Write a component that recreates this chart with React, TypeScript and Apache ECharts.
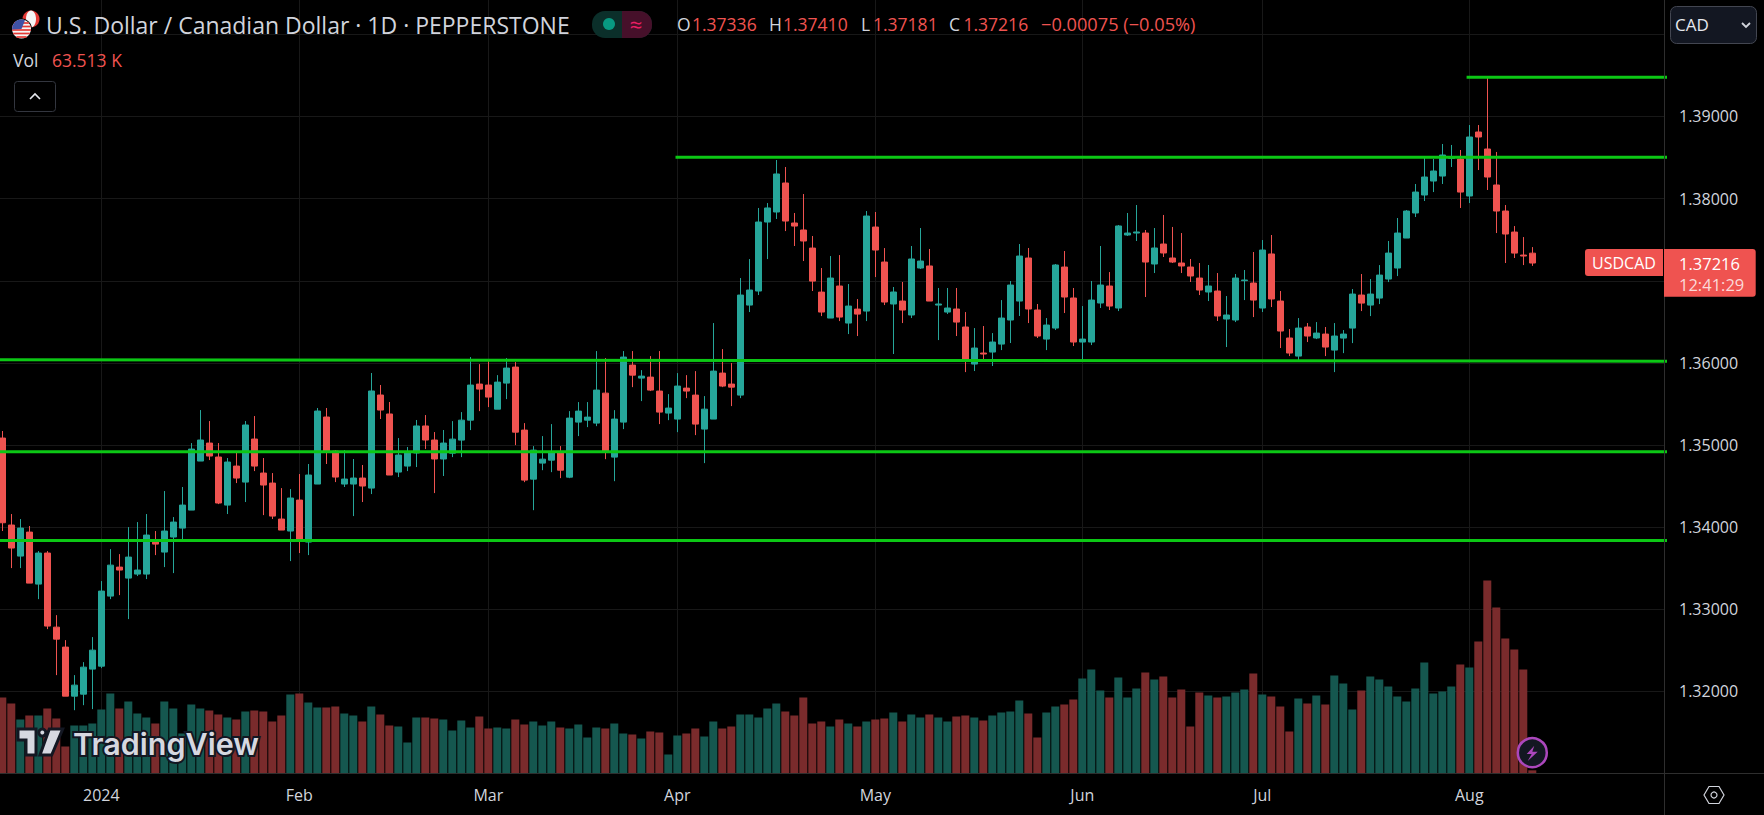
import React, { useEffect, useRef } from "react";
import * as echarts from "echarts";

// Daily candles, oldest first: [open, close, low, high]
const candles: number[][] = [
  [1.35085,1.34054,1.33953,1.35171],[1.34026,1.33746,1.33502,1.34160],[1.33648,1.33989,1.33502,1.34099],[1.33940,1.33319,1.33319,1.34014],
  [1.33307,1.33685,1.33124,1.33709],[1.33685,1.32796,1.32759,1.33709],[1.32783,1.32637,1.32199,1.32929],[1.32540,1.31943,1.31943,1.32625],
  [1.31943,1.32077,1.31772,1.32199],[1.31967,1.32296,1.31833,1.32357],[1.32272,1.32503,1.31785,1.32662],[1.32308,1.33222,1.32284,1.33344],
  [1.33161,1.33538,1.33124,1.33733],[1.33514,1.33478,1.33173,1.33672],[1.33380,1.33636,1.32881,1.34001],[1.33429,1.33478,1.33405,1.34062],
  [1.33429,1.33904,1.33368,1.34160],[1.33819,1.33794,1.33660,1.33953],[1.33697,1.33953,1.33514,1.34440],[1.33880,1.34062,1.33441,1.34123],
  [1.33989,1.34269,1.33831,1.34489],[1.34208,1.34951,1.34208,1.35024],[1.34805,1.35061,1.34805,1.35426],[1.35024,1.34866,1.34817,1.35292],
  [1.34854,1.34294,1.34281,1.35024],[1.34269,1.34793,1.34160,1.34842],[1.34744,1.34598,1.34537,1.34927],[1.34549,1.35244,1.34306,1.35292],
  [1.35073,1.34744,1.34683,1.35353],[1.34659,1.34513,1.34147,1.34842],[1.34537,1.34135,1.34099,1.34659],[1.34099,1.33965,1.33965,1.34476],
  [1.33953,1.34355,1.33587,1.34464],[1.34330,1.33855,1.33685,1.34647],[1.33819,1.34635,1.33660,1.34769],[1.34525,1.35414,1.34525,1.35451],
  [1.35341,1.34915,1.34769,1.35451],[1.34927,1.34610,1.34549,1.34939],[1.34525,1.34586,1.34489,1.34939],[1.34525,1.34598,1.34135,1.34830],
  [1.34598,1.34501,1.34306,1.34757],[1.34476,1.35658,1.34403,1.35877],[1.35609,1.35426,1.35317,1.35731],[1.35378,1.34635,1.34635,1.35524],
  [1.34671,1.34878,1.34610,1.35085],[1.34744,1.34903,1.34683,1.34976],[1.34903,1.35232,1.34732,1.35305],[1.35232,1.35061,1.34951,1.35365],
  [1.35061,1.34830,1.34415,1.35158],[1.34830,1.35024,1.34623,1.35183],[1.34901,1.35072,1.34853,1.35291],[1.35060,1.35303,1.34853,1.35401],
  [1.35303,1.35730,1.35182,1.36071],[1.35742,1.35681,1.35413,1.35985],[1.35730,1.35584,1.35462,1.36022],[1.35437,1.35766,1.35437,1.35851],
  [1.35754,1.35937,1.35559,1.36059],[1.35949,1.35157,1.34999,1.36010],[1.35182,1.34573,1.34548,1.35267],[1.34585,1.34938,1.34207,1.34987],
  [1.34780,1.34828,1.34694,1.35109],[1.34816,1.34914,1.34670,1.35255],[1.34914,1.34694,1.34597,1.34987],[1.34609,1.35328,1.34597,1.35413],
  [1.35279,1.35413,1.35109,1.35523],[1.35303,1.35340,1.35218,1.35523],[1.35267,1.35669,1.35230,1.36144],[1.35632,1.34914,1.34828,1.36059],
  [1.34853,1.35316,1.34560,1.35425],[1.35279,1.36071,1.35194,1.36144],[1.35973,1.35851,1.35705,1.36144],[1.35815,1.35839,1.35535,1.35912],
  [1.35827,1.35669,1.35657,1.36083],[1.35657,1.35401,1.35255,1.36144],[1.35389,1.35450,1.35303,1.35620],[1.35316,1.35718,1.35157,1.35876],
  [1.35693,1.35657,1.35571,1.35851],[1.35608,1.35255,1.35121,1.35900],[1.35194,1.35437,1.34780,1.35596],[1.35316,1.35900,1.35316,1.36485],
  [1.35876,1.35718,1.35705,1.36168],[1.35742,1.35705,1.35474,1.35998],[1.35608,1.36826,1.35571,1.37033],[1.36704,1.36887,1.36619,1.37264],
  [1.36875,1.37715,1.36826,1.37886],[1.37715,1.37886,1.37264,1.37946],[1.37837,1.38300,1.37752,1.38470],[1.38190,1.37727,1.37605,1.38385],
  [1.37703,1.37666,1.37423,1.37825],[1.37618,1.37484,1.37240,1.38056],[1.37398,1.36996,1.36875,1.37545],[1.36862,1.36619,1.36570,1.37155],
  [1.36546,1.37033,1.36546,1.37301],[1.36936,1.36558,1.36509,1.37313],[1.36485,1.36692,1.36351,1.36960],[1.36655,1.36594,1.36327,1.36777],
  [1.36631,1.37788,1.36509,1.37849],[1.37654,1.37374,1.37045,1.37837],[1.37228,1.36741,1.36704,1.37398],[1.36717,1.36863,1.36108,1.36924],
  [1.36753,1.36644,1.36485,1.36985],[1.36583,1.37265,1.36546,1.37423],[1.37155,1.37240,1.37143,1.37642],[1.37180,1.36753,1.36753,1.37387],
  [1.36704,1.36717,1.36278,1.36912],[1.36619,1.36668,1.36595,1.36912],[1.36656,1.36497,1.36327,1.36912],[1.36437,1.36022,1.35888,1.36619],
  [1.35986,1.36181,1.35901,1.36424],[1.36120,1.36108,1.36022,1.36449],[1.36132,1.36254,1.35962,1.36363],[1.36229,1.36546,1.36156,1.36765],
  [1.36522,1.36948,1.36242,1.36997],[1.36753,1.37301,1.36571,1.37447],[1.37277,1.36656,1.36485,1.37399],[1.36644,1.36327,1.36303,1.36717],
  [1.36290,1.36461,1.36156,1.36546],[1.36424,1.37192,1.36400,1.37204],[1.37167,1.36802,1.36607,1.37362],[1.36790,1.36254,1.36205,1.36912],
  [1.36254,1.36290,1.36035,1.36692],[1.36254,1.36765,1.36217,1.36997],[1.36729,1.36948,1.36668,1.37423],[1.36936,1.36692,1.36644,1.37106],
  [1.36668,1.37667,1.36631,1.37679],[1.37557,1.37581,1.37545,1.37825],[1.37581,1.37594,1.37484,1.37922],[1.37581,1.37228,1.36802,1.37618],
  [1.37204,1.37399,1.37094,1.37642],[1.37447,1.37338,1.37289,1.37801],[1.37277,1.37228,1.37216,1.37655],[1.37216,1.37180,1.37094,1.37581],
  [1.37167,1.37058,1.36985,1.37265],[1.37033,1.36887,1.36826,1.37216],[1.36863,1.36936,1.36753,1.37192],[1.36875,1.36571,1.36510,1.37094],
  [1.36534,1.36583,1.36193,1.36814],[1.36522,1.37033,1.36497,1.37082],[1.37001,1.37009,1.36765,1.37131],[1.36972,1.36765,1.36558,1.37350],
  [1.36668,1.37374,1.36619,1.37496],[1.37326,1.36778,1.36680,1.37557],[1.36753,1.36388,1.36181,1.36875],[1.36303,1.36120,1.36083,1.36412],
  [1.36083,1.36424,1.36035,1.36546],[1.36437,1.36327,1.36254,1.36485],[1.36303,1.36363,1.36290,1.36497],[1.36351,1.36193,1.36083,1.36437],
  [1.36156,1.36327,1.35888,1.36485],[1.36302,1.36351,1.36119,1.36400],[1.36424,1.36838,1.36241,1.36899],[1.36826,1.36728,1.36631,1.37082],
  [1.36704,1.36838,1.36570,1.37021],[1.36789,1.37069,1.36716,1.37191],[1.37021,1.37337,1.36984,1.37484],[1.37155,1.37581,1.37057,1.37764],
  [1.37520,1.37849,1.37520,1.37861],[1.37825,1.38080,1.37776,1.38178],[1.38044,1.38263,1.37971,1.38495],[1.38214,1.38336,1.38080,1.38482],
  [1.38275,1.38531,1.38178,1.38665],[1.38490,1.38507,1.38385,1.38653],[1.38482,1.38080,1.37886,1.38592],[1.38032,1.38750,1.37946,1.38896],
  [1.38811,1.38750,1.38348,1.38896],[1.38604,1.38263,1.38105,1.39469],[1.38166,1.37849,1.37581,1.38568],[1.37849,1.37569,1.37216,1.37922],
  [1.37593,1.37337,1.37277,1.37666],[1.37313,1.37301,1.37191,1.37532],[1.37336,1.37216,1.37181,1.37410],
];

// Daily volume in thousands
const volumes: number[] = [
  1520,1400,1080,1160,1160,1300,1100,540,960,960,
  1000,1280,1600,1300,1440,1200,1120,1000,1440,1300,
  800,1380,1300,1260,1180,1120,1080,1240,1260,1240,
  1040,1160,1580,1600,1420,1320,1320,1340,1200,1160,
  1040,1340,1180,960,940,620,1120,1120,1100,1080,
  860,1060,920,1140,900,920,900,1080,980,1040,
  960,1040,920,900,980,720,920,900,1000,800,
  780,700,840,820,380,760,800,900,740,1040,
  900,940,1180,1180,1120,1300,1400,1240,1160,1520,
  1000,1040,940,1080,1000,940,1040,1080,1100,1220,
  1040,1180,1120,1180,1120,1040,1140,1160,1120,1060,
  1160,1220,1240,1460,1200,720,1220,1340,1380,1480,
  1900,2080,1660,1520,1920,1520,1700,2020,1880,1940,
  1520,1680,940,1620,1560,1520,1540,1620,1680,2000,
  1580,1540,1340,840,1500,1400,1560,1380,1960,1800,
  1280,1660,1940,1880,1740,1540,1440,1700,2220,1600,
  1640,1740,2180,2120,2640,3860,3320,2700,2480,2080,
  63.513,
];

// Time axis: candle index of each labelled session
const xTickIndex = [11, 33, 54, 75, 97, 120, 140, 163];
const xTickLabels = ["2024", "Feb", "Mar", "Apr", "May", "Jun", "Jul", "Aug"];
const yTickLabels = [1.32, 1.33, 1.34, 1.35, 1.36, 1.38, 1.39];

// Drawn support / resistance levels: [candle index, price] end points
const levels: number[][][] = [
  [[162.7, 1.39477], [185, 1.39477]],
  [[74.8, 1.38503], [185, 1.38503]],
  [[-1, 1.36039], [185, 1.36021]],
  [[-1, 1.34919], [185, 1.34919]],
  [[-1, 1.33838], [185, 1.33838]],
];

const FONT = '"Open Sans", "Noto Sans", sans-serif';
const GREY = "#d1d4dc";
const RED = "#ef5350";
const TEAL = "#26a69a";
const PANEL = "#131722";
const LINE = "#2e2e2e";
const GRID = "#181818";

const XMIN = -0.2556;
const XMAX = 184.69;

function txt(text: string, x: number, y: number, fill: string, size: number, extra: any = {}) {
  return {
    type: "text",
    z: 120,
    silent: true,
    style: {
      text,
      x,
      y,
      fill,
      font: `${extra.weight || 400} ${size}px ${FONT}`,
      textVerticalAlign: "middle",
      textAlign: extra.align || "left",
      ...(extra.style || {}),
    },
  };
}

function buildGraphic() {
  const els: any[] = [];
  // panel borders
  els.push({ type: "line", z: 90, silent: true, shape: { x1: 1664.5, y1: 0, x2: 1664.5, y2: 815 }, style: { stroke: LINE, lineWidth: 1 } });
  els.push({ type: "line", z: 90, silent: true, shape: { x1: 0, y1: 773.5, x2: 1764, y2: 773.5 }, style: { stroke: LINE, lineWidth: 1 } });

  // pair flags
  els.push({ type: "circle", z: 110, shape: { cx: 31, cy: 19, r: 8.5 }, style: { fill: "#e53935" } });
  els.push({ type: "ellipse", z: 111, shape: { cx: 31, cy: 19, rx: 5, ry: 8.4 }, style: { fill: "#f5f5f5" } });
  els.push({ type: "circle", z: 112, shape: { cx: 21.5, cy: 29, r: 10.5 }, style: { fill: "#000" } });
  els.push({ type: "circle", z: 113, shape: { cx: 21.5, cy: 29, r: 9.5 }, style: { fill: "#f5f5f5" } });
  [-6, -2.5, 1, 4.5, 8].forEach((dy) => {
    const half = Math.sqrt(90 - dy * dy);
    els.push({ type: "line", z: 114, shape: { x1: 21.5 - half, y1: 29 + dy, x2: 21.5 + half, y2: 29 + dy }, style: { stroke: "#e53935", lineWidth: 1.7 } });
  });
  els.push({ type: "sector", z: 115, shape: { cx: 21.5, cy: 29, r: 9.5, startAngle: Math.PI * 0.98, endAngle: Math.PI * 1.62 }, style: { fill: "#3f51a5" } });

  // title line
  els.push(txt("U.S. Dollar / Canadian Dollar · 1D · PEPPERSTONE", 46, 25, GREY, 23));
  els.push({ type: "rect", z: 110, shape: { x: 592, y: 11, width: 60, height: 27, r: 13 }, style: { fill: "#0b2f2a" } });
  els.push({ type: "rect", z: 111, shape: { x: 622, y: 11, width: 30, height: 27, r: [0, 13, 13, 0] }, style: { fill: "#46102a" } });
  els.push({ type: "circle", z: 112, shape: { cx: 609, cy: 24, r: 6 }, style: { fill: "#089981" } });
  els.push(txt("≈", 636, 24, "#e91e63", 22, { align: "center" }));

  // OHLC readout
  const ohlc: [string, string, number, number][] = [
    ["O", "1.37336", 677, 692],
    ["H", "1.37410", 769, 783],
    ["L", "1.37181", 861, 873],
    ["C", "1.37216", 949, 963.5],
  ];
  ohlc.forEach(([k, v, kx, vx]) => {
    els.push(txt(k, kx, 24, GREY, 17.5));
    els.push(txt(v, vx, 24, RED, 17.5));
  });
  els.push(txt("−0.00075 (−0.05%)", 1041, 24, RED, 18.2));

  // volume legend + collapse button
  els.push(txt("Vol", 13, 60, GREY, 17.5));
  els.push(txt("63.513 K", 52, 60, RED, 17.5));
  els.push({ type: "rect", z: 110, shape: { x: 14.5, y: 81.5, width: 41, height: 30, r: 3 }, style: { fill: "#000", stroke: "#33363f", lineWidth: 1 } });
  els.push({ type: "polyline", z: 111, shape: { points: [[30, 99], [35, 94], [40, 99]] }, style: { fill: "none", stroke: "#e6e8ee", lineWidth: 1.6 } });

  // currency selector
  els.push({ type: "rect", z: 110, shape: { x: 1670.5, y: 6.5, width: 86, height: 37, r: 6 }, style: { fill: PANEL, stroke: "#434651", lineWidth: 1 } });
  els.push(txt("CAD", 1675, 24.5, "#e6e8ee", 17));
  els.push({ type: "polyline", z: 121, shape: { points: [[1742, 23], [1746, 27], [1750, 23]] }, style: { fill: "none", stroke: "#d1d4dc", lineWidth: 1.8 } });

  // last price labels
  els.push({ type: "rect", z: 110, shape: { x: 1585, y: 249, width: 78, height: 27, r: [3, 0, 0, 3] }, style: { fill: RED } });
  els.push(txt("USDCAD", 1624, 263, "#ffffff", 16, { align: "center", weight: 500 }));
  els.push({ type: "rect", z: 110, shape: { x: 1664, y: 249, width: 91.7, height: 47.7, r: [0, 3, 3, 0] }, style: { fill: RED } });
  els.push(txt("1.37216", 1679, 263, "#ffffff", 16.5, { weight: 500 }));
  els.push(txt("12:41:29", 1679, 284, "#fbdad9", 16.5));

  // settings icon
  const hex: number[][] = [[1704, 795], [1709, 786.5], [1719, 786.5], [1724, 795], [1719, 803.5], [1709, 803.5]];
  els.push({ type: "polygon", z: 110, shape: { points: hex }, style: { fill: "none", stroke: GREY, lineWidth: 1.2 } });
  els.push({ type: "circle", z: 110, shape: { cx: 1714, cy: 795, r: 3 }, style: { fill: "none", stroke: GREY, lineWidth: 1.2 } });

  // flash badge
  els.push({ type: "circle", z: 110, shape: { cx: 1532.3, cy: 752.7, r: 14.5 }, style: { fill: PANEL, stroke: "#ab47bc", lineWidth: 2.5 } });
  els.push({
    type: "polygon", z: 111,
    shape: { points: [[1534.3, 745.7], [1526.7, 754], [1531.7, 754], [1527.7, 761], [1537.7, 751.7], [1532.3, 751.7]] },
    style: { fill: "#ab47bc" },
  });

  // TradingView mark
  const markStyle = { fill: "#d6d8e0", stroke: "#131722", lineWidth: 3 };
  els.push({ type: "polygon", z: 110, shape: { points: [[18, 729], [36, 729], [36, 755], [26, 755], [26, 740], [18, 740]] }, style: markStyle });
  els.push({ type: "circle", z: 110, shape: { cx: 42.3, cy: 732.6, r: 3.5 }, style: markStyle });
  els.push({ type: "polygon", z: 110, shape: { points: [[49.3, 729], [62.7, 729], [51.7, 755], [40, 755]] }, style: markStyle });
  els.push({
    type: "text", z: 110, silent: true,
    style: {
      text: "TradingView", x: 73, y: 743, fill: "#d6d8e0", stroke: "#131722", lineWidth: 4,
      font: `600 30.5px Inter, ${FONT}`, textVerticalAlign: "middle",
    },
  });
  return els;
}

export default function App() {
  const ref = useRef<HTMLDivElement>(null);
  useEffect(() => {
    const chart = echarts.init(ref.current!, undefined, { renderer: "svg" });
    const candleData = candles.map((c, i) => [i, ...c]);
    const volumeData = volumes.map((v, i) => ({
      value: [i, v],
      itemStyle: { color: candles[i][1] >= candles[i][0] ? "#15574f" : "#7a2b2c" },
    }));
    chart.setOption({
      animation: false,
      backgroundColor: "#000000",
      graphic: { elements: buildGraphic() },
      grid: [
        { left: 0, width: 1664.5, top: -47.8, height: 821.4, containLabel: false, outerBoundsMode: "none" },
        { left: 0, width: 1664.5, top: 548.5, height: 225, containLabel: false, outerBoundsMode: "none" },
      ],
      xAxis: [
        {
          type: "value",
          gridIndex: 0,
          min: XMIN,
          max: XMAX,
          axisLine: { show: false },
          axisTick: { show: false, customValues: xTickIndex },
          axisLabel: {
            customValues: xTickIndex,
            formatter: (v: number) => xTickLabels[xTickIndex.indexOf(Math.round(v))] ?? "",
            color: GREY,
            fontFamily: FONT,
            fontSize: 16,
            margin: 13,
            hideOverlap: false,
            showMinLabel: true,
            showMaxLabel: true,
          },
          splitLine: { show: true, lineStyle: { color: GRID, width: 1 } },
        },
        { type: "value", gridIndex: 1, min: XMIN, max: XMAX, show: false, splitLine: { show: false } },
      ],
      yAxis: [
        {
          type: "value",
          gridIndex: 0,
          position: "right",
          min: 1.31,
          max: 1.41,
          interval: 0.01,
          axisLine: { show: false },
          axisTick: { show: false },
          axisLabel: {
            customValues: yTickLabels,
            formatter: (v: number) => v.toFixed(5),
            color: GREY,
            fontFamily: FONT,
            fontSize: 16,
            margin: 14.5,
          },
          splitLine: { show: true, lineStyle: { color: GRID, width: 1 } },
        },
        { type: "value", gridIndex: 1, min: 0, max: 4500, show: false, splitLine: { show: false } },
      ],
      series: [
        {
          name: "Volume",
          type: "bar",
          xAxisIndex: 1,
          yAxisIndex: 1,
          barWidth: 8,
          z: 1,
          silent: true,
          data: volumeData,
        },
        {
          name: "USDCAD",
          type: "candlestick",
          xAxisIndex: 0,
          yAxisIndex: 0,
          barWidth: 6,
          z: 2,
          silent: true,
          encode: { x: 0, y: [1, 2, 3, 4] },
          itemStyle: { color: TEAL, color0: RED, borderColor: TEAL, borderColor0: RED, borderWidth: 1 },
          data: candleData,
        },
        ...levels.map((pts, i) => ({
          name: `Level ${i + 1}`,
          type: "line",
          xAxisIndex: 0,
          yAxisIndex: 0,
          z: 3,
          silent: true,
          symbol: "none",
          lineStyle: { color: "#0cc715", width: 3 },
          data: pts,
        })),
      ],
    });
    return () => chart.dispose();
  }, []);
  return (
    <div
      ref={ref}
      style={{ position: "fixed", left: 0, top: 0, width: 1764, height: 815, background: "#000" }}
    />
  );
}
